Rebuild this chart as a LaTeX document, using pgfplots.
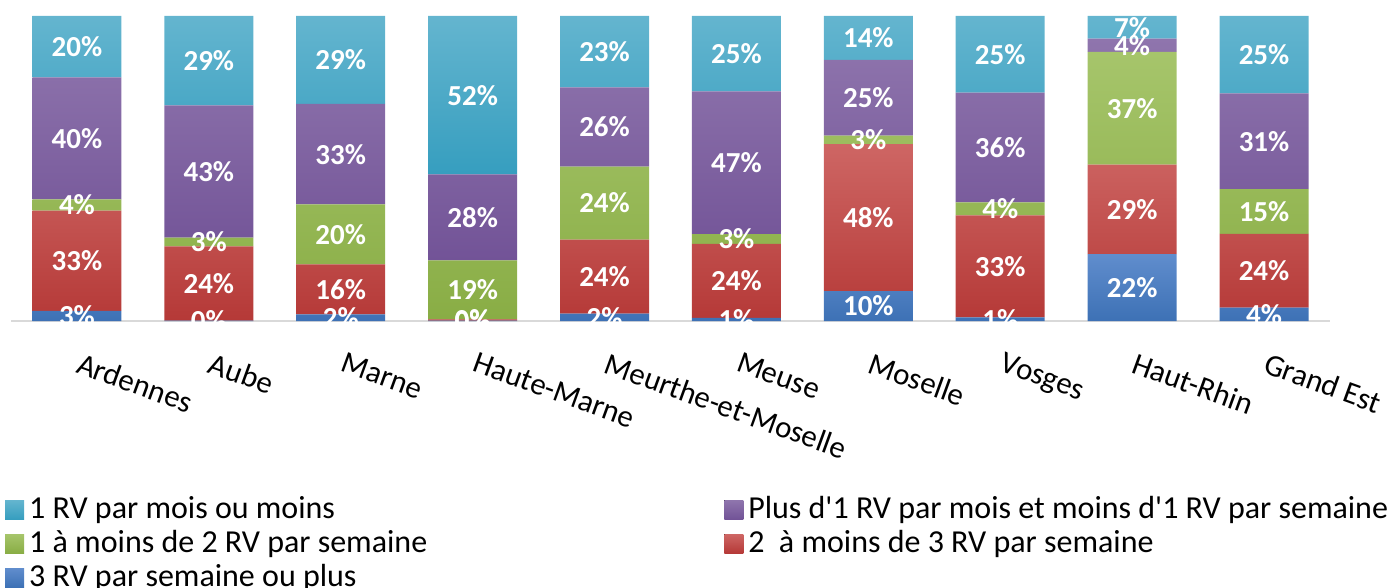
\documentclass[border=0pt]{standalone}
\usepackage{pgfplots}
\usepackage{pgfplotstable}
\pgfplotsset{compat=1.18}
\usepackage{fontspec}
\setmainfont{Carlito}
\definecolor{cyT}{RGB}{100,181,207}
\definecolor{cyB}{RGB}{54,158,191}
\definecolor{puT}{RGB}{143,117,173}
\definecolor{puB}{RGB}{114,83,151}
\definecolor{grT}{RGB}{166,197,107}
\definecolor{grB}{RGB}{137,173,69}
\definecolor{reT}{RGB}{206,102,100}
\definecolor{reB}{RGB}{181,57,55}
\definecolor{blT}{RGB}{96,141,205}
\definecolor{blB}{RGB}{61,113,181}
\pgfplotstableread{
x blue red green purple cyan
0 3.3 32.9 3.7 40.0 20.1
1 0.1 24.4 2.8 43.4 29.3
2 2.2 16.4 19.6 33.0 28.8
3 0.1 0.4 19.4 28.2 51.9
4 2.4 24.3 23.9 26.0 23.4
5 1.0 24.3 3.2 46.8 24.7
6 9.8 48.2 2.8 24.8 14.4
7 1.2 33.4 4.3 36.0 25.1
8 21.9 29.4 36.9 4.4 7.4
9 4.4 24.2 14.6 31.4 25.4
}\data
\pgfplotsset{
  base/.style={scale only axis, width=1319pt, height=305pt,
    xmin=-0.5, xmax=9.5, ymin=0, ymax=100,
    enlargelimits=false, ybar stacked, bar width=89pt, clip mode=global},
  lbl/.style={draw=none, fill=none, point meta=explicit,
    nodes near coords={\pgfmathprintnumber[fixed,precision=0,assume math mode=true]{\pgfplotspointmeta}\%},
    every node near coord/.append style={anchor=center,
      text=white, inner sep=0pt, font=\fontsize{29}{31}\selectfont\bfseries}},
}
\begin{document}
\begin{tikzpicture}
\begin{axis}[
  base,
  axis x line*=bottom, axis y line=none,
  x axis line style={draw=black!15, line width=1.5pt, -},
  xtick={0,...,9},
  xticklabels={Ardennes, Aube, Marne, Haute-Marne, Meurthe-et-Moselle, Meuse, Moselle, Vosges, Haut-Rhin, Grand Est},
  major tick length=0pt,
  xticklabel style={font=\fontsize{31}{36}\selectfont, rotate=-20, anchor=north west, inner sep=0pt, yshift=-27pt, xshift=15.5pt},
  ytick=\empty,
  legend columns=2, reverse legend, legend cell align=left,
  legend style={at={(axis description cs:-0.0068,-0.564)}, anchor=north west, draw=none, fill=none,
    font=\fontsize{32}{36}\selectfont, row sep=4pt,
    nodes={inner xsep=5pt, inner ysep=0pt, text height=23pt, text depth=7pt},
    /tikz/every even column/.append style={column sep=292pt}},
  legend image code/.code={\fill[#1] (0pt,-9pt) rectangle (19pt,10pt);},
]
\addplot[draw=none, top color=blT, bottom color=blB] table[x=x,y=blue]{\data};
\addlegendentry{3 RV par semaine ou plus}
\addplot[draw=none, top color=reT, bottom color=reB] table[x=x,y=red]{\data};
\addlegendentry{2\ \ à moins de 3 RV par semaine}
\addplot[draw=none, top color=grT, bottom color=grB] table[x=x,y=green]{\data};
\addlegendentry{1 à moins de 2 RV par semaine}
\addplot[draw=none, top color=puT, bottom color=puB] table[x=x,y=purple]{\data};
\addlegendentry{Plus d\textquotesingle 1 RV par mois et moins d\textquotesingle 1 RV par semaine}
\addplot[draw=none, top color=cyT, bottom color=cyB] table[x=x,y=cyan]{\data};
\addlegendentry{1 RV par mois ou moins}
\end{axis}
\begin{axis}[base, hide axis]
\addplot[lbl] table[x=x,y=blue,meta=blue]{\data};
\addplot[lbl] table[x=x,y=red,meta=red]{\data};
\addplot[lbl] table[x=x,y=green,meta=green]{\data};
\addplot[lbl] table[x=x,y=purple,meta=purple]{\data};
\addplot[lbl] table[x=x,y=cyan,meta=cyan]{\data};
\end{axis}
\pgfresetboundingbox
\path[use as bounding box] (-11pt,-267pt) rectangle (1378pt,321pt);
\end{tikzpicture}
\end{document}
